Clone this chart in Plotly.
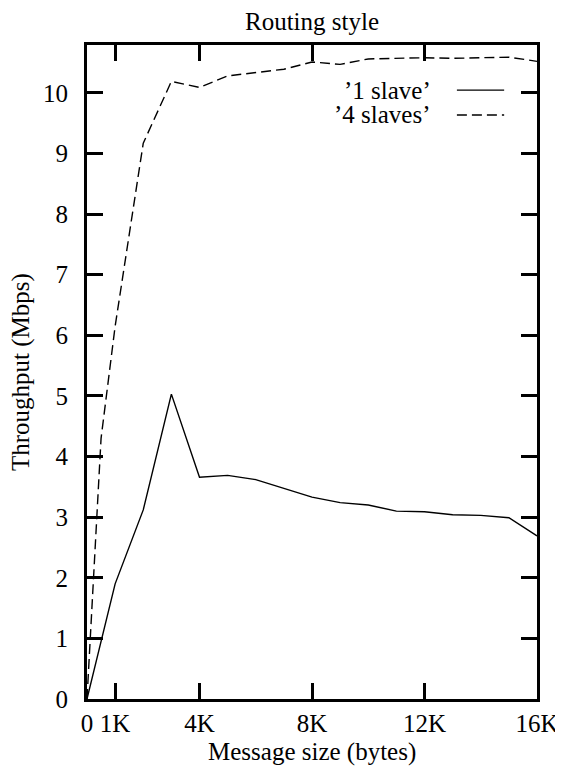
import plotly.graph_objects as go

# Message sizes (bytes)
sizes = [0, 512, 1024, 2048, 3072, 4096, 5120, 6144, 7168, 8192, 9216,
         10240, 11264, 12288, 13312, 14336, 15360, 16384]
one_slave = [0, 0.95, 1.9, 3.12, 5.03, 3.66, 3.69, 3.62, 3.47, 3.33, 3.24,
             3.20, 3.10, 3.09, 3.04, 3.03, 2.99, 2.69]
four_slaves = [0, 4.3, 6.15, 9.17, 10.19, 10.09, 10.28, 10.34, 10.39, 10.51, 10.47,
               10.56, 10.57, 10.58, 10.57, 10.58, 10.59, 10.52]

x_tickvals = [0, 1024, 4096, 8192, 12288, 16384]
x_ticktext = ["0", "1K", "4K", "8K", "12K", "16K"]
y_tickvals = list(range(0, 11))

series_names = ["’1 slave’", "’4 slaves’"]

FONT = "Liberation Serif, Times New Roman, serif"
FS = 25
TFONT = dict(family=FONT, size=FS, color="black")

fig = go.Figure()
fig.add_trace(go.Scatter(x=sizes, y=one_slave, mode="lines", name=series_names[0],
                         line=dict(color="black", width=1.4), showlegend=False))
fig.add_trace(go.Scatter(x=sizes, y=four_slaves, mode="lines", name=series_names[1],
                         line=dict(color="black", width=1.4, dash="10px,5px"), showlegend=False))

# legend drawn gnuplot-style: text right-aligned, key sample to the right
legend_rows = [(series_names[0], "solid", 0.931), (series_names[1], "10px,5px", 0.893)]
for name, dash, yp in legend_rows:
    fig.add_annotation(xref="paper", yref="paper", x=0.769, y=yp, xanchor="right", yanchor="middle",
                       text=name, showarrow=False, font=TFONT)
    fig.add_shape(type="line", xref="paper", yref="paper", x0=0.822, x1=0.927, y0=yp, y1=yp,
                  line=dict(color="black", width=1.4, dash=dash))

# axis titles
fig.add_annotation(xref="paper", yref="paper", x=0.5, y=0, xanchor="center", yanchor="middle",
                   yshift=-53, text="Message size (bytes)", showarrow=False, font=TFONT)
fig.add_annotation(xref="paper", yref="paper", x=0, y=0.5, xanchor="center", yanchor="middle",
                   xshift=-66, textangle=-90, text="Throughput (Mbps)", showarrow=False, font=TFONT)

axis_common = dict(showline=True, linecolor="black", linewidth=3, mirror="ticks",
                   ticks="inside", ticklen=16, tickwidth=2.5, tickcolor="black",
                   showgrid=False, zeroline=False, automargin=False,
                   tickfont=TFONT)

fig.update_layout(
    width=555, height=758,
    margin=dict(l=79, r=26, t=37, b=67, autoexpand=False),
    paper_bgcolor="white", plot_bgcolor="white",
    title=dict(text="Routing style", xref="paper", x=0.5, xanchor="center",
               yref="container", y=0.9825, yanchor="middle", font=TFONT),
    xaxis=dict(range=[0, 16384], tickmode="array", tickvals=x_tickvals, ticktext=x_ticktext,
               **axis_common),
    yaxis=dict(range=[0, 10.79], tickmode="array", tickvals=y_tickvals,
               ticklabelstandoff=11, **axis_common),
    showlegend=False,
)

fig.write_html("out.html")
